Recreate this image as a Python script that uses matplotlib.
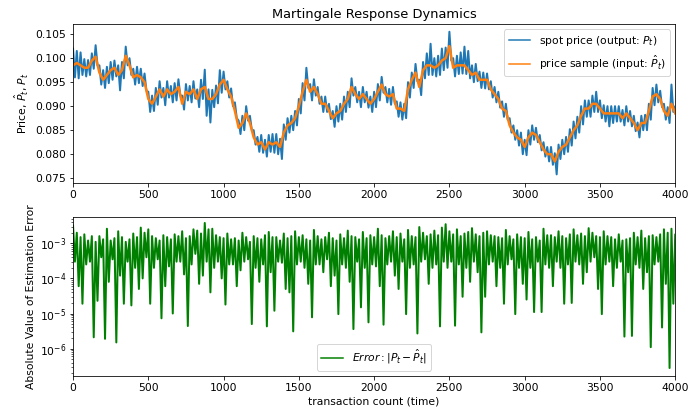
import numpy as np
import matplotlib
matplotlib.use("Agg")
import matplotlib.pyplot as plt

# transaction grid (every 25 transactions)
t = np.arange(0, 4001, 25)

# price sample (input)
price_sample = [
    0.0985, 0.0990, 0.0985, 0.0980, 0.0980, 0.0995, 0.1003, 0.0970, 0.0955, 0.0965,
    0.0975, 0.0980, 0.0965, 0.0975, 0.1005, 0.0985, 0.0960, 0.0965, 0.0960, 0.0950,
    0.0915, 0.0905, 0.0920, 0.0935, 0.0920, 0.0935, 0.0925, 0.0930, 0.0940, 0.0905,
    0.0930, 0.0925, 0.0935, 0.0915, 0.0935, 0.0940, 0.0915, 0.0915, 0.0925, 0.0945,
    0.0955, 0.0935, 0.0920, 0.0890, 0.0855, 0.0865, 0.0885, 0.0865, 0.0835, 0.0820,
    0.0825, 0.0810, 0.0825, 0.0820, 0.0825, 0.0815, 0.0845, 0.0860, 0.0865, 0.0875,
    0.0900, 0.0930, 0.0955, 0.0930, 0.0940, 0.0925, 0.0905, 0.0905, 0.0890, 0.0875,
    0.0885, 0.0890, 0.0905, 0.0915, 0.0940, 0.0925, 0.0915, 0.0925, 0.0915, 0.0905,
    0.0915, 0.0930, 0.0945, 0.0925, 0.0920, 0.0925, 0.0895, 0.0895, 0.0890, 0.0935,
    0.0955, 0.0970, 0.0940, 0.0975, 0.0985, 0.0985, 0.0980, 0.0985, 0.0995, 0.1000,
    0.1025, 0.0980, 0.0985, 0.0985, 0.0985, 0.0975, 0.0965, 0.0970, 0.0955, 0.0955,
    0.0955, 0.0935, 0.0925, 0.0915, 0.0895, 0.0890, 0.0860, 0.0845, 0.0835, 0.0830,
    0.0815, 0.0835, 0.0845, 0.0840, 0.0825, 0.0810, 0.0800, 0.0800, 0.0785, 0.0805,
    0.0815, 0.0820, 0.0835, 0.0850, 0.0860, 0.0880, 0.0895, 0.0895, 0.0905, 0.0905,
    0.0895, 0.0885, 0.0885, 0.0885, 0.0885, 0.0885, 0.0875, 0.0885, 0.0875, 0.0865,
    0.0850, 0.0865, 0.0865, 0.0890, 0.0920, 0.0925, 0.0915, 0.0890, 0.0880, 0.0905,
    0.0885,
]

# spot price (output): upper and lower extremes of the blue trace around each grid time
spot_upper = [
    0.1020, 0.1015, 0.1012, 0.0998, 0.0996, 0.1010, 0.1027, 0.0985, 0.0975, 0.0982,
    0.0992, 0.0995, 0.0985, 0.0992, 0.1024, 0.1000, 0.0978, 0.0982, 0.0978, 0.0968,
    0.0930, 0.0922, 0.0938, 0.0952, 0.0938, 0.0952, 0.0942, 0.0948, 0.0956, 0.0922,
    0.0946, 0.0942, 0.0952, 0.0935, 0.0955, 0.0976, 0.0935, 0.0934, 0.0943, 0.0975,
    0.0972, 0.0952, 0.0937, 0.0908, 0.0870, 0.0880, 0.0900, 0.0880, 0.0850, 0.0836,
    0.0840, 0.0830, 0.0840, 0.0842, 0.0842, 0.0832, 0.0862, 0.0875, 0.0880, 0.0890,
    0.0915, 0.0948, 0.0980, 0.0946, 0.0956, 0.0940, 0.0920, 0.0920, 0.0905, 0.0890,
    0.0900, 0.0905, 0.0920, 0.0930, 0.0958, 0.0940, 0.0930, 0.0940, 0.0930, 0.0920,
    0.0930, 0.0946, 0.0961, 0.0940, 0.0936, 0.0940, 0.0910, 0.0908, 0.0905, 0.0950,
    0.0970, 0.0988, 0.0955, 0.0992, 0.1010, 0.1030, 0.1000, 0.1005, 0.1020, 0.1022,
    0.1055, 0.1000, 0.1005, 0.1012, 0.1024, 0.1015, 0.0985, 0.0988, 0.0972, 0.0970,
    0.0968, 0.0952, 0.0940, 0.0930, 0.0910, 0.0905, 0.0875, 0.0860, 0.0850, 0.0845,
    0.0830, 0.0850, 0.0860, 0.0855, 0.0840, 0.0825, 0.0815, 0.0815, 0.0802, 0.0820,
    0.0830, 0.0836, 0.0852, 0.0868, 0.0878, 0.0900, 0.0912, 0.0912, 0.0922, 0.0930,
    0.0912, 0.0902, 0.0900, 0.0900, 0.0900, 0.0900, 0.0892, 0.0900, 0.0890, 0.0880,
    0.0866, 0.0880, 0.0882, 0.0905, 0.0938, 0.0945, 0.0932, 0.0905, 0.0898, 0.0945,
    0.0900,
]
spot_lower = [
    0.0960, 0.0958, 0.0965, 0.0962, 0.0965, 0.0978, 0.0985, 0.0945, 0.0938, 0.0948,
    0.0955, 0.0962, 0.0933, 0.0958, 0.0985, 0.0965, 0.0945, 0.0948, 0.0942, 0.0932,
    0.0888, 0.0890, 0.0903, 0.0918, 0.0902, 0.0918, 0.0908, 0.0912, 0.0922, 0.0893,
    0.0912, 0.0908, 0.0916, 0.0898, 0.0915, 0.0880, 0.0866, 0.0898, 0.0906, 0.0928,
    0.0935, 0.0918, 0.0900, 0.0875, 0.0842, 0.0850, 0.0870, 0.0850, 0.0820, 0.0805,
    0.0803, 0.0795, 0.0805, 0.0803, 0.0800, 0.0790, 0.0830, 0.0845, 0.0850, 0.0860,
    0.0885, 0.0912, 0.0938, 0.0912, 0.0922, 0.0905, 0.0888, 0.0888, 0.0873, 0.0857,
    0.0868, 0.0872, 0.0888, 0.0898, 0.0922, 0.0908, 0.0898, 0.0908, 0.0897, 0.0888,
    0.0898, 0.0912, 0.0928, 0.0908, 0.0903, 0.0905, 0.0878, 0.0872, 0.0875, 0.0918,
    0.0938, 0.0952, 0.0923, 0.0958, 0.0965, 0.0965, 0.0962, 0.0965, 0.0975, 0.0980,
    0.0995, 0.0962, 0.0967, 0.0968, 0.0967, 0.0958, 0.0950, 0.0952, 0.0938, 0.0937,
    0.0935, 0.0918, 0.0908, 0.0897, 0.0878, 0.0872, 0.0845, 0.0830, 0.0818, 0.0800,
    0.0798, 0.0820, 0.0830, 0.0825, 0.0808, 0.0795, 0.0785, 0.0778, 0.0758, 0.0790,
    0.0800, 0.0805, 0.0818, 0.0833, 0.0845, 0.0862, 0.0878, 0.0878, 0.0888, 0.0888,
    0.0875, 0.0868, 0.0858, 0.0865, 0.0868, 0.0868, 0.0860, 0.0868, 0.0858, 0.0848,
    0.0835, 0.0850, 0.0850, 0.0872, 0.0902, 0.0908, 0.0898, 0.0872, 0.0865, 0.0888,
    0.0870,
]

# absolute estimation error |P_t - P_hat_t|: top of the band and the dips below it
error_top = [
    3.2e-3, 2.0e-3, 1.5e-3, 1.8e-3, 1.2e-3, 1.6e-3, 1.1e-3, 1.6e-3, 1.3e-3, 2.6e-3,
    1.2e-3, 1.4e-3, 2.2e-3, 1.5e-3, 1.1e-3, 1.3e-3, 1.9e-3, 1.5e-3, 2.8e-3, 2.0e-3,
    2.5e-3, 1.6e-3, 1.4e-3, 1.2e-3, 1.7e-3, 1.5e-3, 1.3e-3, 1.8e-3, 1.6e-3, 2.2e-3,
    1.4e-3, 1.6e-3, 2.5e-3, 2.3e-3, 1.9e-3, 3.8e-3, 2.5e-3, 2.6e-3, 1.7e-3, 1.5e-3,
    1.4e-3, 1.9e-3, 1.3e-3, 1.4e-3, 1.2e-3, 2.0e-3, 1.5e-3, 1.1e-3, 1.6e-3, 1.4e-3,
    1.3e-3, 1.7e-3, 2.1e-3, 1.5e-3, 1.5e-3, 1.2e-3, 1.9e-3, 1.4e-3, 1.6e-3, 2.2e-3,
    1.5e-3, 1.7e-3, 1.3e-3, 1.2e-3, 2.4e-3, 1.6e-3, 1.3e-3, 1.5e-3, 2.0e-3, 1.4e-3,
    1.2e-3, 1.8e-3, 1.4e-3, 2.3e-3, 1.6e-3, 1.5e-3, 1.3e-3, 2.1e-3, 1.4e-3, 1.7e-3,
    1.5e-3, 2.6e-3, 1.7e-3, 1.4e-3, 1.6e-3, 2.2e-3, 1.5e-3, 1.9e-3, 1.3e-3, 2.4e-3,
    1.6e-3, 1.5e-3, 2.9e-3, 2.0e-3, 1.6e-3, 1.8e-3, 2.3e-3, 1.7e-3, 2.8e-3, 3.5e-3,
    2.2e-3, 1.8e-3, 2.5e-3, 1.6e-3, 1.9e-3, 2.1e-3, 2.7e-3, 1.8e-3, 1.6e-3, 2.0e-3,
    2.2e-3, 1.7e-3, 1.6e-3, 1.5e-3, 1.4e-3, 2.4e-3, 1.6e-3, 1.3e-3, 1.8e-3, 1.5e-3,
    1.4e-3, 2.1e-3, 1.3e-3, 1.5e-3, 1.2e-3, 2.6e-3, 1.7e-3, 1.7e-3, 1.5e-3, 2.2e-3,
    1.6e-3, 1.4e-3, 1.8e-3, 2.5e-3, 1.7e-3, 1.9e-3, 1.6e-3, 2.7e-3, 2.0e-3, 1.6e-3,
    1.5e-3, 2.2e-3, 1.6e-3, 1.5e-3, 1.3e-3, 1.8e-3, 1.2e-3, 1.3e-3, 1.4e-3, 2.0e-3,
    1.5e-3, 2.3e-3, 1.4e-3, 1.6e-3, 1.7e-3, 1.5e-3, 1.8e-3, 2.5e-3, 2.0e-3, 2.6e-3,
    1.8e-3,
]
error_dip = [
    3.0e-4, 6.0e-5, 1.9e-5, 2.5e-4, 3.0e-4, 2.1e-6, 2.3e-5, 4.0e-4, 1.9e-6, 8.0e-5,
    3.5e-4, 1.5e-6, 1.2e-4, 1.9e-5, 3.0e-4, 1.7e-5, 2.0e-4, 5.0e-5, 1.0e-4, 4.0e-4,
    1.9e-5, 2.0e-4, 3.5e-4, 7.3e-6, 6.0e-5, 2.2e-4, 1.0e-5, 3.0e-4, 3.0e-4, 1.3e-4,
    4.4e-6, 2.5e-4, 5.0e-4, 7.0e-5, 1.2e-4, 3.0e-4, 4.0e-5, 2.0e-4, 3.0e-4, 1.0e-4,
    1.8e-5, 2.5e-4, 2.5e-4, 6.0e-5, 1.7e-4, 3.0e-4, 3.5e-4, 5.0e-6, 2.0e-4, 8.0e-5,
    2.5e-4, 4.3e-6, 1.5e-4, 1.2e-5, 3.0e-4, 2.8e-4, 5.0e-5, 4.0e-5, 3.1e-6, 2.5e-4,
    3.0e-4, 2.0e-4, 7.0e-5, 7.8e-6, 2.5e-4, 2.5e-4, 1.5e-4, 3.5e-4, 6.0e-5, 1.2e-4,
    9.6e-6, 2.5e-4, 2.0e-4, 8.0e-5, 3.6e-6, 3.0e-4, 1.5e-5, 2.0e-4, 5.6e-6, 2.5e-4,
    2.2e-4, 6.0e-5, 4.8e-6, 2.5e-4, 3.0e-4, 1.2e-4, 5.0e-5, 3.0e-4, 9.6e-6, 2.0e-4,
    2.5e-4, 2.7e-6, 3.0e-4, 3.5e-4, 7.0e-5, 2.0e-4, 2.5e-4, 4.3e-6, 3.0e-4, 2.0e-4,
    3.0e-4, 4.5e-6, 2.5e-4, 3.0e-5, 2.0e-4, 8.0e-5, 3.0e-4, 1.5e-4, 2.9e-6, 3.0e-5,
    2.5e-4, 3.0e-4, 6.0e-5, 2.0e-4, 1.9e-5, 2.5e-4, 3.5e-4, 9.6e-6, 2.0e-4, 7.0e-5,
    2.5e-5, 2.0e-4, 1.1e-5, 3.0e-4, 1.1e-5, 2.5e-4, 2.0e-4, 6.0e-5, 3.0e-4, 2.0e-4,
    1.9e-5, 2.5e-4, 2.0e-5, 3.0e-4, 2.5e-4, 7.0e-5, 1.5e-4, 3.0e-4, 4.0e-4, 5.0e-5,
    9.6e-6, 2.5e-4, 3.0e-4, 6.0e-5, 2.0e-4, 3.0e-4, 2.2e-6, 1.5e-4, 2.3e-6, 2.5e-4,
    2.0e-4, 5.0e-5, 1.5e-4, 1.1e-6, 2.5e-4, 3.0e-4, 4.0e-6, 7.0e-5, 2.8e-7, 1.9e-5,
    2.5e-4,
]

x_ticks = [0, 500, 1000, 1500, 2000, 2500, 3000, 3500, 4000]
price_ticks = [0.075, 0.080, 0.085, 0.090, 0.095, 0.100, 0.105]


def zigzag(x, hi, lo):
    """Interleave the read highs and lows so each becomes a vertex of one line."""
    xs = np.empty(2 * len(x))
    ys = np.empty(2 * len(x))
    xs[0::2] = x
    xs[1::2] = np.asarray(x) + 12.5
    ys[0::2] = hi
    ys[1::2] = lo
    return xs, ys


plt.rcParams['font.size'] = 10.8
plt.rcParams['axes.titlesize'] = 13

fig = plt.figure(figsize=(689 / 72, 415 / 72), dpi=72)
ax1 = fig.add_axes([0.106, 0.559, 0.874, 0.383])
ax2 = fig.add_axes([0.106, 0.094, 0.874, 0.384])

bx, by = zigzag(t, spot_upper, spot_lower)
ax1.plot(bx, by, color='#1f77b4', lw=2.0, label=r'spot price (output: $P_t$)')
ax1.plot(t, price_sample, color='#ff7f0e', lw=2.5, label=r'price sample (input: $\hat{P}_t$)')
ax1.set_xlim(0, 4000)
ax1.set_ylim(0.0740, 0.1071)
ax1.set_xticks(x_ticks)
ax1.set_yticks(price_ticks)
ax1.set_yticklabels([f'{v:.3f}' for v in price_ticks])
ax1.set_ylabel(r'Price, $\hat{P}_t$, $P_t$')
ax1.set_title('Martingale Response Dynamics')
leg1 = ax1.legend(loc='upper right')
for ln in leg1.get_lines():
    ln.set_linewidth(1.5)

gx, gy = zigzag(t, error_top, error_dip)
ax2.plot(gx, gy, color='green', lw=2.0, label=r'$Error: |P_t - \hat{P}_t|$')
ax2.set_yscale('log')
ax2.set_xlim(0, 4000)
ax2.set_ylim(1.66e-7, 5.75e-3)
ax2.set_xticks(x_ticks)
ax2.set_ylabel('Absolute Value of Estimation Error')
ax2.set_xlabel('transaction count (time)')
leg2 = ax2.legend(loc='lower center')
for ln in leg2.get_lines():
    ln.set_linewidth(1.5)

fig.savefig('out.png', dpi=72)
